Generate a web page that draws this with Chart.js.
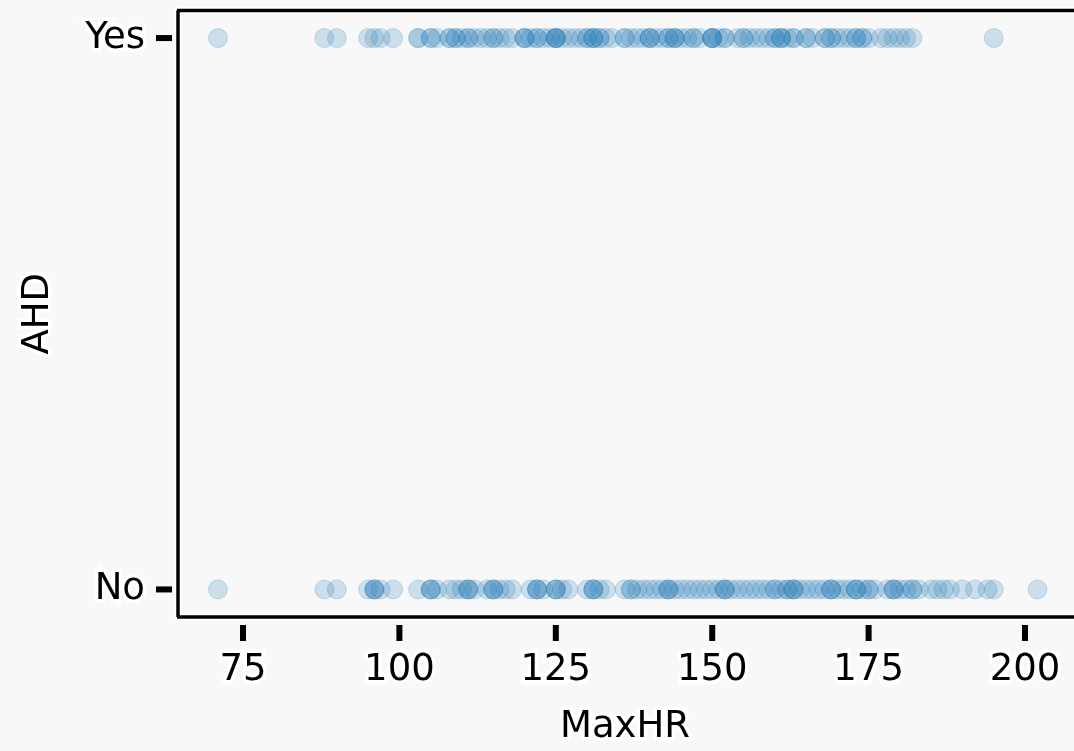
<!DOCTYPE html>
<html><head><meta charset="utf-8">
<script src="https://cdn.jsdelivr.net/npm/chart.js@4.4.0/dist/chart.umd.min.js"></script>
<style>html,body{margin:0;padding:0;background:#f8f8f8;overflow:hidden}#w{width:1074px;height:751px}</style>
</head><body><div id="w"><canvas id="c"></canvas></div>
<script>
const xTicks = [75, 100, 125, 150, 175, 200];
const yTickLabels = ['No', 'Yes'];
const xTitle = 'MaxHR';
const yTitle = 'AHD';
const maxHRYes = [71, 88, 90, 95, 96, 97, 99, 103, 103, 105, 105, 106, 108, 108, 109, 109, 110, 111, 111, 112, 113, 114, 115, 115, 116, 117, 118, 120, 120, 120, 121, 122, 122, 123, 124, 125, 125, 125, 125, 126, 127, 128, 129, 130, 130, 131, 131, 131, 132, 132, 133, 134, 136, 136, 137, 138, 139, 140, 140, 140, 141, 142, 143, 143, 144, 144, 144, 145, 146, 147, 147, 148, 150, 150, 150, 150, 151, 152, 152, 154, 155, 155, 156, 157, 158, 159, 160, 160, 161, 161, 161, 162, 163, 163, 165, 165, 166, 168, 168, 169, 169, 170, 171, 172, 173, 173, 174, 174, 175, 177, 178, 179, 180, 181, 182, 195];
const maxHRNo = [71, 88, 90, 95, 96, 96, 96, 97, 99, 103, 105, 105, 105, 106, 108, 109, 110, 111, 111, 111, 112, 114, 115, 115, 115, 116, 117, 118, 121, 122, 122, 122, 123, 125, 125, 125, 126, 127, 130, 131, 131, 131, 132, 133, 136, 137, 137, 138, 139, 140, 141, 142, 143, 143, 143, 144, 145, 146, 147, 148, 149, 150, 151, 152, 152, 152, 153, 154, 155, 156, 157, 158, 159, 160, 160, 161, 162, 162, 163, 163, 163, 164, 165, 166, 167, 168, 169, 169, 169, 170, 171, 172, 173, 173, 173, 174, 175, 175, 176, 178, 179, 179, 179, 180, 181, 182, 182, 183, 185, 186, 187, 188, 190, 192, 194, 195, 202];

const FONT = '"DejaVu Sans", sans-serif';
const FS = 37;
const pts = maxHRNo.map(v => ({x: v, y: 0})).concat(maxHRYes.map(v => ({x: v, y: 1})));

const deco = {
  id: 'deco',
  beforeDraw(chart) {
    const c = chart.ctx;
    c.save();
    c.fillStyle = '#f8f8f8';
    c.fillRect(0, 0, chart.width, chart.height);
    c.restore();
  },
  afterDraw(chart) {
    const c = chart.ctx, a = chart.chartArea;
    const xs = chart.scales.x, ys = chart.scales.y;
    c.save();
    c.strokeStyle = '#fff'; c.lineWidth = 7;
    const lines = [[a.left, a.top, chart.width, a.top], [a.left, a.bottom, chart.width, a.bottom], [a.left+1, a.top, a.left+1, a.bottom]];
    lines.forEach(l => { c.beginPath(); c.moveTo(l[0], l[1]); c.lineTo(l[2], l[3]); c.stroke(); });
    c.strokeStyle = '#000'; c.lineWidth = 3.5;
    lines.forEach(l => { c.beginPath(); c.moveTo(l[0], l[1]); c.lineTo(l[2], l[3]); c.stroke(); });
    c.fillStyle = '#000';
    xTicks.forEach(v => { const px = xs.getPixelForValue(v); c.fillRect(px - 3, a.bottom + 8, 6, 16); });
    [0, 1].forEach(v => { const py = ys.getPixelForValue(v); c.fillRect(a.left - 21, py - 3, 16, 6); });
    c.font = FS + 'px ' + FONT;
    c.textAlign = 'center'; c.textBaseline = 'middle';
    c.lineJoin = 'round';
    c.strokeStyle = '#fff'; c.lineWidth = 7;
    const tx = 625, ty = 727;
    c.strokeText(xTitle, tx, ty); c.fillText(xTitle, tx, ty);
    c.translate(38, (a.top + a.bottom) / 2);
    c.rotate(-Math.PI / 2);
    c.strokeText(yTitle, 0, 0); c.fillText(yTitle, 0, 0);
    c.restore();
  }
};

new Chart(document.getElementById('c'), {
  type: 'scatter',
  data: { datasets: [{ data: pts, backgroundColor: 'rgba(31,119,180,0.2)', borderColor: 'rgba(31,119,180,0.22)', borderWidth: 1, pointRadius: 9.5, pointHoverRadius: 9.5 }] },
  options: {
    responsive: true, maintainAspectRatio: false, animation: false,
    layout: { padding: { top: 10, right: 2, left: 0, bottom: 0 } },
    plugins: { legend: { display: false }, tooltip: { enabled: false } },
    scales: {
      x: {
        type: 'linear', min: 64.45, max: 208.55,
        afterFit: s => { s.height = 134; s.paddingLeft = 0; s.paddingRight = 0; },
        afterBuildTicks: s => { s.ticks = xTicks.map(v => ({ value: v })); },
        grid: { display: false, drawTicks: false }, border: { display: false },
        ticks: { padding: 31, color: '#000', font: { size: FS, family: FONT }, textStrokeColor: '#fff', textStrokeWidth: 7, maxRotation: 0, autoSkip: false, callback: v => String(v) }
      },
      y: {
        type: 'linear', min: -0.05, max: 1.05,
        afterFit: s => { s.width = 177; s.paddingTop = 0; s.paddingBottom = 0; },
        afterBuildTicks: s => { s.ticks = [{ value: 0 }, { value: 1 }]; },
        grid: { display: false, drawTicks: false }, border: { display: false },
        ticks: { padding: 32, color: '#000', font: { size: FS, family: FONT }, textStrokeColor: '#fff', textStrokeWidth: 7, callback: v => yTickLabels[v] }
      }
    }
  },
  plugins: [deco, {
    id: 'fixArea',
    afterLayout(chart) {
      const xs = chart.scales.x;
      const target = chart.width + 4.5;
      if (Math.abs(xs.right - target) > 0.5) {
        xs.right = target; xs.width = target - xs.left;
        chart.chartArea.right = target; chart.chartArea.width = target - chart.chartArea.left;
        xs.configure();
      }
    }
  }]
});
</script>
</body></html>
